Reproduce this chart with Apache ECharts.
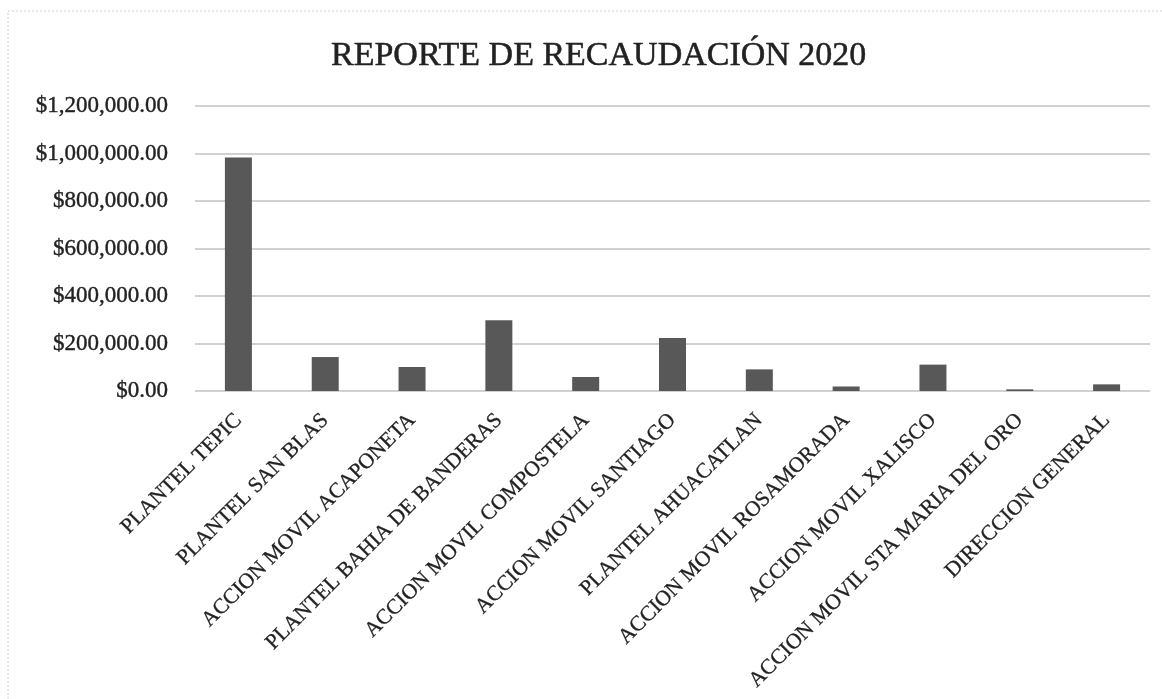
<!DOCTYPE html>
<html>
<head>
<meta charset="utf-8">
<title>Reporte de recaudación 2020</title>
<script src="https://cdn.jsdelivr.net/npm/echarts@6/dist/echarts.min.js"></script>
<style>
  html, body { margin: 0; padding: 0; background: #fff; }
  #chart { width: 1162px; height: 699px; }
</style>
</head>
<body>
<div id="chart"></div>
<script>
// datos
const chartTitle = 'REPORTE DE RECAUDACIÓN 2020';
const categories = [
  'PLANTEL TEPIC',
  'PLANTEL SAN BLAS',
  'ACCION MOVIL ACAPONETA',
  'PLANTEL BAHIA DE BANDERAS',
  'ACCION MOVIL COMPOSTELA',
  'ACCION MOVIL SANTIAGO',
  'PLANTEL AHUACATLAN',
  'ACCION MOVIL ROSAMORADA',
  'ACCION MOVIL XALISCO',
  'ACCION MOVIL STA MARIA DEL ORO',
  'DIRECCION GENERAL'
];
const recaudacion = [983000, 143000, 101000, 298000, 59000, 223000, 91000, 19000, 111000, 7000, 28000];
const yMin = 0;
const yMax = 1200000;
const yStep = 200000;

const serif = '"Liberation Serif", "DejaVu Serif", serif';
const ink = '#222222';

function money(v) {
  const parts = v.toFixed(2).split('.');
  parts[0] = parts[0].replace(/\B(?=(\d{3})+(?!\d))/g, ',');
  return '$' + parts.join('.');
}

const chart = echarts.init(document.getElementById('chart'));
chart.setOption({
  backgroundColor: '#ffffff',
  animation: false,
  title: {
    text: chartTitle,
    left: 326,
    top: 34,
    textStyle: {
      fontFamily: serif,
      fontSize: 34,
      fontWeight: 'normal',
      color: ink,
      textBorderColor: ink,
      textBorderWidth: 0.5
    }
  },
  graphic: [{
    type: 'rect',
    shape: { x: 8, y: 11, width: 1200, height: 720 },
    style: { fill: 'none', stroke: '#d0d0d0', lineWidth: 1, lineDash: [2, 2] },
    silent: true
  }],
  grid: {
    left: 195,
    right: 12,
    top: 106,
    bottom: 308,
    containLabel: false
  },
  xAxis: {
    type: 'category',
    data: categories,
    axisLine: { show: false },
    axisTick: { show: false },
    axisLabel: {
      interval: 0,
      rotate: 45,
      margin: 26,
      fontFamily: serif,
      fontSize: 21.5,
      color: ink,
      textBorderColor: ink,
      textBorderWidth: 0.3
    }
  },
  yAxis: {
    type: 'value',
    min: yMin,
    max: yMax,
    interval: yStep,
    axisLine: { show: false },
    axisTick: { show: false },
    axisLabel: {
      margin: 27,
      fontFamily: serif,
      fontSize: 23,
      color: ink,
      textBorderColor: ink,
      textBorderWidth: 0.4,
      formatter: money
    },
    splitLine: {
      show: true,
      lineStyle: { color: '#c2c2c2', width: 1.5 }
    }
  },
  series: [{
    type: 'bar',
    data: recaudacion,
    barWidth: 27,
    itemStyle: { color: '#585858' }
  }]
});
</script>
</body>
</html>
